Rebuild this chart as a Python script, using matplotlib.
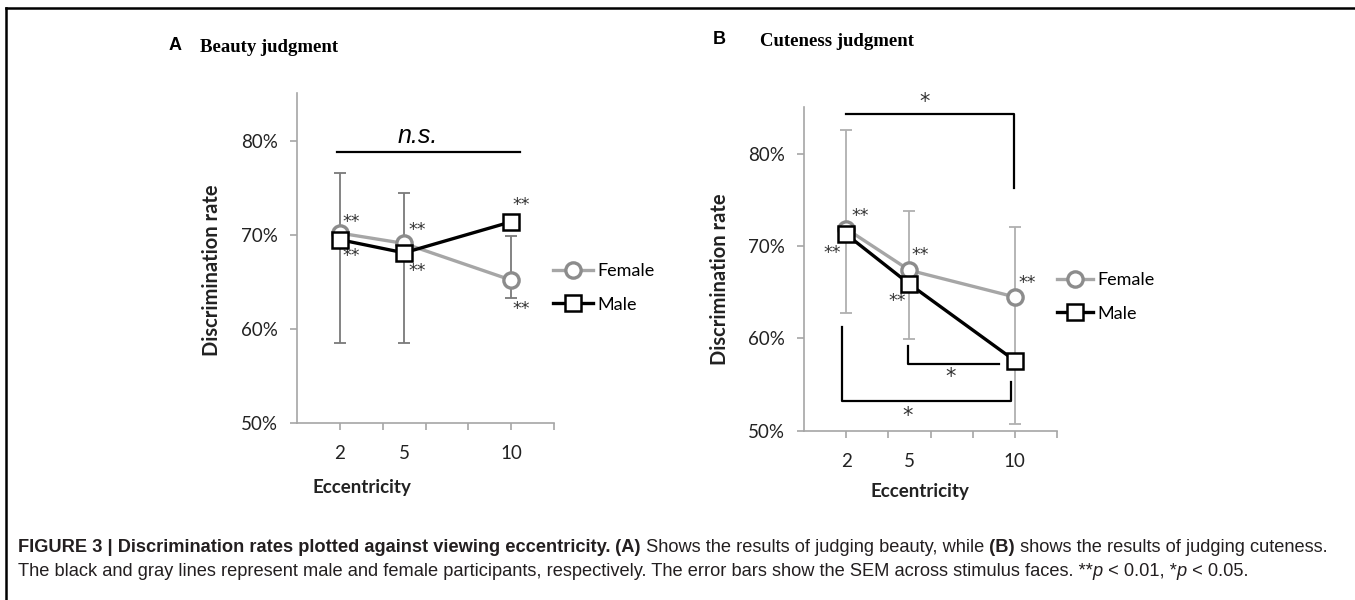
import matplotlib
matplotlib.use('Agg')
import matplotlib.pyplot as plt
from matplotlib.lines import Line2D

# ---------------- data ----------------
ecc = [2, 5, 10]
ecc_labels = ['2', '5', '10']
y_ticks = [50, 60, 70, 80]
y_ticklabels = ['50%', '60%', '70%', '80%']

beauty_female = [70.2, 69.1, 65.2]
beauty_male = [69.5, 68.1, 71.4]
beauty_err_low = [58.5, 58.5, 63.3]
beauty_err_high = [76.6, 74.5, 69.9]

cute_female = [71.9, 67.4, 64.5]
cute_male = [71.3, 65.9, 57.6]
cute_err_low = [62.8, 59.9, 50.7]
cute_err_high = [82.6, 73.8, 72.1]

W, H = 1355, 600
fig = plt.figure(figsize=(W / 100, H / 100), dpi=100)
fig.patch.set_facecolor('white')

FONT = ['Lato', 'DejaVu Sans']
AXIS_GRAY = '#a6a6a6'
FEM_LINE = '#a6a6a6'
FEM_EDGE = '#8c8c8c'


def px_axes(l, r, t, b):
    return fig.add_axes([l / W, 1 - b / H, (r - l) / W, (b - t) / H])


def style_axes(ax):
    ax.set_xlim(0, 12)
    ax.set_ylim(50, 85.1)
    for s in ['top', 'right']:
        ax.spines[s].set_visible(False)
    for s in ['left', 'bottom']:
        ax.spines[s].set_color(AXIS_GRAY)
        ax.spines[s].set_linewidth(1.2)
    ax.xaxis.remove_overlapping_locs = False
    ax.set_xticks(range(2, 13, 2), minor=True)
    ax.set_xticks(ecc)
    ax.set_xticklabels(ecc_labels, fontsize=13.5, family=FONT, color='#222222')
    ax.tick_params(axis='x', which='major', length=0, pad=16)
    ax.tick_params(axis='x', which='minor', length=5, width=1.2, color=AXIS_GRAY, direction='out')
    ax.set_yticks(y_ticks)
    ax.set_yticklabels(y_ticklabels, fontsize=13.5, family=FONT, color='#222222')
    ax.tick_params(axis='y', which='major', length=5, width=1.2, color=AXIS_GRAY, pad=9)
    ax.tick_params(axis='y', which='minor', length=0)


def draw_series(ax, fem, male, lo, hi, err_color):
    yerr = [[f - l for f, l in zip(fem, lo)], [h - f for f, h in zip(fem, hi)]]
    ax.errorbar(ecc, fem, yerr=yerr, fmt='none', ecolor=err_color, elinewidth=1.3,
                capsize=4.5, capthick=1.3, zorder=2)
    ax.plot(ecc, fem, color=FEM_LINE, lw=2.4, marker='o', ms=11, mfc='white',
            mec=FEM_EDGE, mew=2.4, zorder=3, label='Female', clip_on=False)
    ax.plot(ecc, male, color='black', lw=2.4, marker='s', ms=11.5, mfc='white',
            mec='black', mew=1.8, zorder=4, label='Male', clip_on=False)


def stars(ax, x, y, s='**', size=12.5):
    ax.text(x, y, s, fontsize=size, ha='center', va='center', color='#333333',
            family=['DejaVu Sans'], clip_on=False)


# ---------------- panel A ----------------
axA = px_axes(297, 554, 93, 423)
style_axes(axA)
draw_series(axA, beauty_female, beauty_male, beauty_err_low, beauty_err_high, '#7a7a7a')
axA.plot([1.87, 10.41], [78.8, 78.8], color='black', lw=1.6, clip_on=False)
axA.text(5.65, 80.5, 'n.s.', fontsize=18, style='italic', ha='center', va='center',
         family=['Liberation Sans'])
for (x, y) in [(2.55, 71.4), (2.55, 67.8), (5.6, 70.5), (5.6, 66.2), (10.45, 73.2), (10.45, 62.1)]:
    stars(axA, x, y)

axA.legend(loc='center left', bbox_to_anchor=(553 / W, 1 - 288 / H),
           bbox_transform=fig.transFigure, frameon=False, borderpad=0,
           borderaxespad=0, handlelength=2.2, handletextpad=0.25,
           labelspacing=0.95, prop={'family': FONT, 'size': 13})

# ---------------- panel B ----------------
axB = px_axes(804, 1057, 107, 430.7)
style_axes(axB)
draw_series(axB, cute_female, cute_male, cute_err_low, cute_err_high, '#b0b0b0')
bk = dict(color='black', lw=1.6, clip_on=False)
axB.plot([1.98, 9.96, 9.96], [84.3, 84.3, 76.3], **bk)
axB.plot([4.92, 4.92, 9.26], [59.2, 57.2, 57.2], **bk)
axB.plot([1.79, 1.79, 9.8, 9.8], [61.2, 53.2, 53.2, 55.3], **bk)
stars(axB, 5.74, 85.6, '*', 15)
stars(axB, 6.97, 55.8, '*', 15)
stars(axB, 4.92, 51.6, '*', 15)
for (x, y) in [(2.66, 73.3), (1.34, 69.3), (5.5, 69.1), (4.4, 64.1), (10.61, 66.0)]:
    stars(axB, x, y)

axB.legend(loc='center left', bbox_to_anchor=(1057 / W, 1 - 297 / H),
           bbox_transform=fig.transFigure, frameon=False, borderpad=0,
           borderaxespad=0, handlelength=2.0, handletextpad=0.25,
           labelspacing=0.95, prop={'family': FONT, 'size': 13})

# ---------------- axis labels and titles ----------------
for x, y in [(212, 270), (720, 279)]:
    fig.text(x / W, 1 - y / H, 'Discrimination rate', rotation=90, ha='center', va='center',
             fontsize=14.5, fontweight='bold', family=FONT, color='#222222')
for x, y in [(362, 487), (920, 492)]:
    fig.text(x / W, 1 - y / H, 'Eccentricity', ha='center', va='center',
             fontsize=13.5, fontweight='bold', family=FONT, color='#222222')

fig.text(175 / W, 1 - 46 / H, 'A', ha='center', va='center', fontsize=13,
         fontweight='bold', family=['Liberation Sans'])
fig.text(200 / W, 1 - 47 / H, 'Beauty judgment', ha='left', va='center', fontsize=13.5,
         fontweight='bold', family=['Liberation Serif'])
fig.text(719 / W, 1 - 39 / H, 'B', ha='center', va='center', fontsize=13,
         fontweight='bold', family=['Liberation Sans'])
fig.text(760 / W, 1 - 41 / H, 'Cuteness judgment', ha='left', va='center', fontsize=13.5,
         fontweight='bold', family=['Liberation Serif'])

# ---------------- border ----------------
fig.add_artist(Line2D([6 / W, 6 / W], [1 - 8 / H, 0], transform=fig.transFigure,
                      color='black', lw=1.8))
fig.add_artist(Line2D([6 / W, 1], [1 - 8 / H, 1 - 8 / H], transform=fig.transFigure,
                      color='black', lw=1.8))

# ---------------- caption ----------------
line1 = [('FIGURE 3 | Discrimination rates plotted against viewing eccentricity.', 'bold', 'normal'),
         (' (A)', 'bold', 'normal'),
         (' Shows the results of judging beauty, while', 'normal', 'normal'),
         (' (B)', 'bold', 'normal'),
         (' shows the results of judging cuteness.', 'normal', 'normal')]
line2 = [('The black and gray lines represent male and female participants, respectively. '
          'The error bars show the SEM across stimulus faces. **', 'normal', 'normal'),
         ('p', 'normal', 'italic'),
         (' < 0.01, *', 'normal', 'normal'),
         ('p', 'normal', 'italic'),
         (' < 0.05.', 'normal', 'normal')]

renderer = fig.canvas.get_renderer()


def draw_line(segs, x0, y, size, draw=True):
    x = x0
    for s, w, st in segs:
        t = fig.text(x / W, 1 - y / H, s, fontsize=size, fontweight=w, fontstyle=st,
                     family=['Liberation Sans'], ha='left', va='center', color='#231f20')
        bb = t.get_window_extent(renderer)
        x += bb.width
        if not draw:
            t.remove()
    return x - x0


cap_x0 = 18
target = 1333 - cap_x0
w0 = draw_line(line1, cap_x0, 547, 10, draw=False)
cap_size = 10 * target / w0
draw_line(line1, cap_x0, 547, cap_size)
draw_line(line2, cap_x0, 571, cap_size)

fig.savefig('out.png', dpi=100, facecolor='white')
